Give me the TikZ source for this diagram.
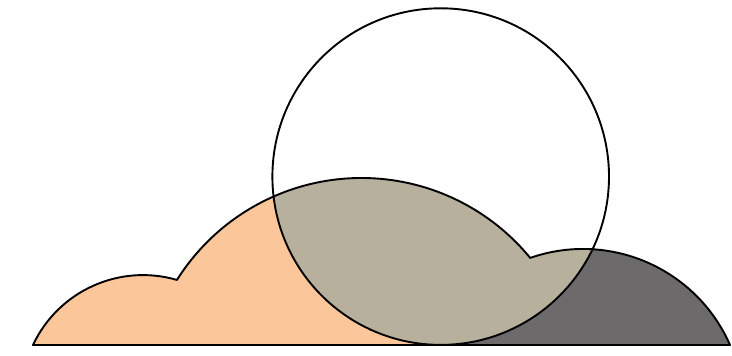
\documentclass[tikz,border=0pt]{standalone}
\definecolor{cloudorange}{RGB}{251,198,153}
\definecolor{clouddark}{RGB}{108,106,106}
\definecolor{cloudtan}{RGB}{182,176,157}
\tikzset{outline/.style={draw=black,line width=1.9pt,line join=round}}
\begin{document}
\begin{tikzpicture}[x=1pt,y=1pt]
\useasboundingbox (0,0) rectangle (732,356);
\def\cloudpath{(33,11) arc[start angle=154.87, end angle=73.77, radius=121.5]
  arc[start angle=147.84, end angle=39.30, radius=218]
  arc[start angle=109.20, end angle=23.72, radius=160.6] -- cycle}
\coordinate (sun) at (440.7,179.4);
% left part of the cloud
\begin{scope}
  \clip (0,0) rectangle (440.7,356);
  \fill[cloudorange] \cloudpath;
\end{scope}
% right part of the cloud
\begin{scope}
  \clip (440.7,0) rectangle (732,356);
  \fill[clouddark] \cloudpath;
\end{scope}
% overlap with the circle
\begin{scope}
  \clip (sun) circle (168.3);
  \fill[cloudtan] \cloudpath;
\end{scope}
\draw[outline] \cloudpath;
\draw[outline] (sun) circle (168.3);
\end{tikzpicture}
\end{document}
